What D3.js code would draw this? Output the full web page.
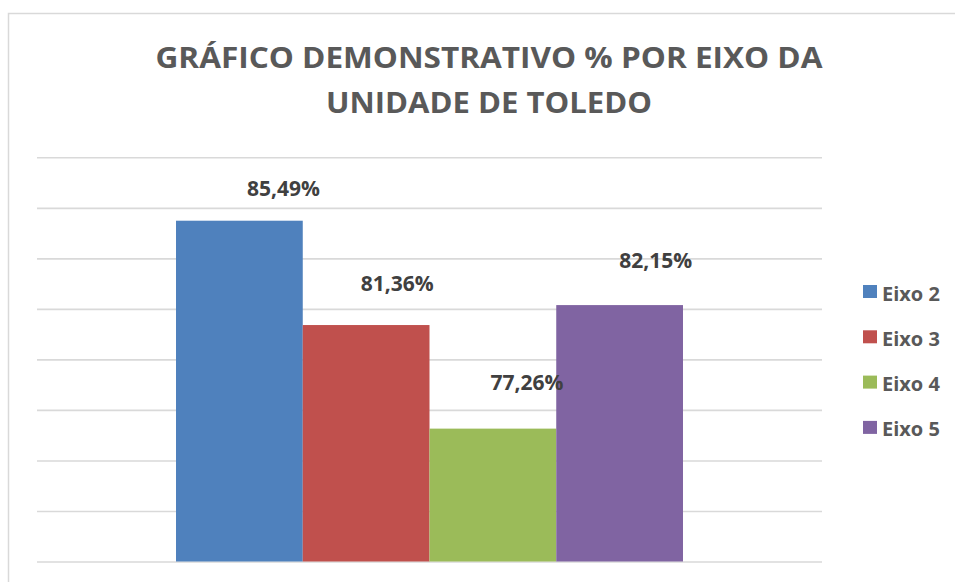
<!DOCTYPE html>
<html>
<head>
<meta charset="utf-8">
<script src="https://cdn.jsdelivr.net/npm/d3@7"></script>
<style>
  html, body { margin: 0; padding: 0; background: #fff; }
  svg { display: block; }
</style>
</head>
<body>
<svg id="chart" width="955" height="582"></svg>
<script>
// ---- data ----
const titleLines = ["GRÁFICO DEMONSTRATIVO % POR EIXO DA", "UNIDADE DE TOLEDO"];
const category = ["Unidade de Toledo"];
const seriesNames = ["Eixo 2", "Eixo 3", "Eixo 4", "Eixo 5"];
const seriesValues = [85.49, 81.36, 77.26, 82.15];
const valueLabels = ["85,49%", "81,36%", "77,26%", "82,15%"];
const yTicks = [72, 74, 76, 78, 80, 82, 84, 86, 88];

// ---- layout / style ----
const colors = ["#4F81BD", "#C0504D", "#9BBB59", "#8064A2"];
const labelNudge = [[44, -25], [31, -34], [34, -39], [36, -37]]; // manual label placement (dx, dy from bar top)
const W = 955, H = 582;
const plot = { left: 37, right: 822, top: 157.3, bottom: 561.5 };

const svg = d3.select("#chart");

// chart border
svg.append("path")
  .attr("d", `M8.5,${H} L8.5,13.5 L${W},13.5`)
  .attr("fill", "none").attr("stroke", "#D9D9D9").attr("stroke-width", 1.5);

// title
svg.selectAll("text.title").data(titleLines).join("text")
  .attr("class", "title")
  .attr("x", 489)
  .attr("y", (d, i) => 68 + i * 45)
  .attr("text-anchor", "middle")
  .attr("font-family", "'Open Sans', sans-serif")
  .attr("font-weight", 700)
  .attr("font-size", 28)
  .attr("fill", "#595959")
  .attr("textLength", (d, i) => i === 0 ? 667 : 326)
  .attr("lengthAdjust", "spacingAndGlyphs")
  .text(d => d);

// scales
const y = d3.scaleLinear().domain([72, 88]).range([plot.bottom, plot.top]);
const x0 = d3.scaleBand().domain(category).range([plot.left, plot.right])
  .paddingInner(0).paddingOuter(0.2742);
const x1 = d3.scaleBand().domain(seriesNames).range([0, x0.bandwidth()]).padding(0);

// gridlines via axis
const yAxis = d3.axisLeft(y).tickValues(yTicks).tickSize(-(plot.right - plot.left)).tickFormat("");
const gAxis = svg.append("g").attr("transform", `translate(${plot.left},0)`).call(yAxis);
gAxis.select(".domain").remove();
gAxis.selectAll(".tick line").attr("stroke", "#D9D9D9").attr("stroke-width", 1.6);

// bars
const rows = seriesNames.map((s, i) => ({ name: s, value: seriesValues[i], label: valueLabels[i], color: colors[i], nudge: labelNudge[i] }));
const gBars = svg.append("g").attr("transform", `translate(${x0(category[0])},0)`);
gBars.selectAll("rect").data(rows).join("rect")
  .attr("x", d => x1(d.name))
  .attr("width", x1.bandwidth())
  .attr("y", d => y(d.value))
  .attr("height", d => y(72) - y(d.value))
  .attr("fill", d => d.color);

// value labels
gBars.selectAll("text").data(rows).join("text")
  .attr("x", d => x1(d.name) + x1.bandwidth() / 2 + d.nudge[0])
  .attr("y", d => y(d.value) + d.nudge[1])
  .attr("text-anchor", "middle")
  .attr("font-family", "'Open Sans', sans-serif")
  .attr("font-weight", 700)
  .attr("font-size", 21)
  .attr("fill", "#404040")
  .text(d => d.label);

// legend
const legend = svg.append("g").selectAll("g").data(rows).join("g")
  .attr("transform", (d, i) => `translate(863,${291.5 + i * 45.3})`);
legend.append("rect").attr("x", 0).attr("y", -6.5).attr("width", 14).attr("height", 13).attr("fill", d => d.color);
legend.append("text")
  .attr("x", 19).attr("y", 9)
  .attr("font-family", "'Open Sans', sans-serif")
  .attr("font-weight", 700)
  .attr("font-size", 20)
  .attr("fill", "#595959")
  .text(d => d.name);
</script>
</body>
</html>
